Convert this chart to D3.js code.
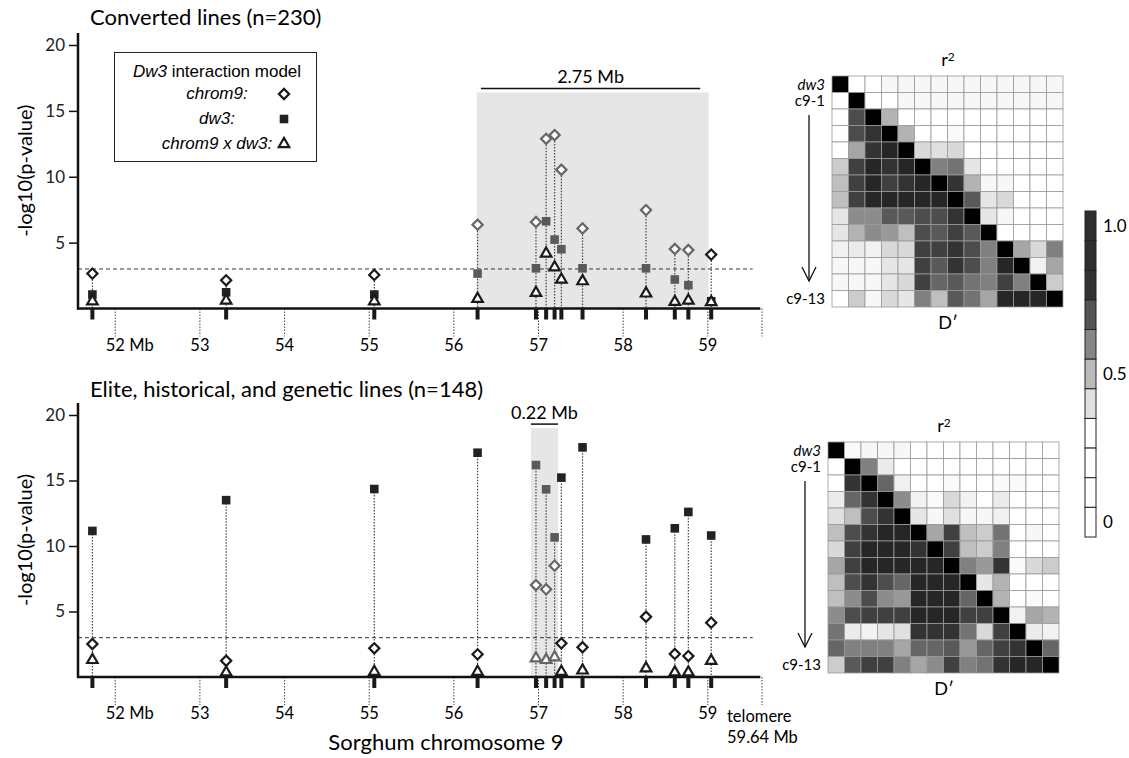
<!DOCTYPE html>
<html>
<head>
<meta charset="utf-8">
<script src="https://cdn.jsdelivr.net/npm/d3@7"></script>
<style>
  body { margin: 0; background: #fff; }
  svg { display: block; }
</style>
</head>
<body>
<div id="chart"></div>
<script>
// SNP positions on chromosome 9 (Mb)
const snpPos = [51.73, 53.31, 55.06, 56.28, 56.97, 57.09, 57.19, 57.27, 57.52, 58.27, 58.61, 58.77, 59.04];
const mbTicks = [52, 53, 54, 55, 56, 57, 58, 59];
const telomere = 59.64;
const yTicks = [5, 10, 15, 20];
const threshold = 3;

// converted lines (n=230): -log10(p)
const convChrom9 = [2.65, 2.14, 2.55, 6.36, 6.57, 12.88, 13.16, 10.53, 6.08, 7.47, 4.52, 4.44, 4.09];
const convDw3    = [1.06, 1.23, 1.06, 2.65, 3.05, 6.62, 5.23, 4.5, 3.05, 3.05, 2.2, 1.77, 0.55];
const convInter  = [0.55, 0.6, 0.55, 0.73, 1.19, 4.17, 3.13, 2.2, 2.07, 1.14, 0.5, 0.6, 0.48];
const convRegion = [56.27, 59.01];
const convBracket = "2.75 Mb";

// elite, historical and genetic lines (n=148)
const eliteChrom9 = [2.52, 1.24, 2.19, 1.73, 7.02, 6.69, 8.5, 2.57, 2.27, 4.6, 1.76, 1.6, 4.15];
const eliteDw3    = [11.15, 13.5, 14.35, 17.12, 16.18, 14.33, 10.66, 15.22, 17.53, 10.5, 11.35, 12.6, 10.8];
const eliteInter  = [1.3, 0.35, 0.4, 0.4, 1.43, 1.3, 1.5, 0.4, 0.5, 0.66, 0.35, 0.35, 1.24];
const eliteRegion = [56.91, 57.23];
const eliteBracket = "0.22 Mb";

// LD heatmaps: shade of each cell (upper = r2, lower = D')
const hmLabels = ["dw3", "c9-1", "", "", "", "", "", "", "", "", "", "", "", "c9-13"];
const convLD = [
  [1, 0, 0, .03, .03, .03, .03, .03, .03, .03, .03, .03, .03, .03],
  [0, 1, 0, 0, .03, .03, .03, .03, .03, .03, .03, .03, .03, .03],
  [0, .7, 1, .3, 0, 0, 0, 0, 0, 0, 0, 0, 0, 0],
  [0, .7, .8, 1, .3, 0, 0, .02, 0, 0, 0, 0, 0, 0],
  [0, .35, .8, .85, 1, .15, .12, .15, 0, 0, 0, 0, 0, 0],
  [.2, .75, .85, .8, .85, 1, .5, .55, .1, 0, 0, 0, 0, 0],
  [.25, .75, .85, .75, .8, .85, 1, .8, .3, .03, .03, 0, 0, 0],
  [.25, .75, .85, .85, .85, .85, .85, 1, .65, .1, .15, 0, 0, 0],
  [.1, .45, .45, .65, .65, .7, .7, .8, 1, .1, .03, 0, 0, 0],
  [.1, .3, .45, .4, .25, .7, .65, .75, .65, 1, 0, 0, 0, 0],
  [.05, .08, .05, .15, .15, .75, .75, .8, .7, .5, 1, .35, .15, .5],
  [.03, .03, .03, .1, .1, .75, .65, .8, .7, .5, .85, 1, .05, .35],
  [.03, .03, .03, .1, .15, .75, .6, .65, .55, .5, .75, .5, 1, .2],
  [0, .2, .03, .15, .1, .5, .25, .65, .55, .35, .85, .85, .85, 1]
];
const eliteLD = [
  [1, .02, .03, .03, .03, 0, 0, 0, 0, 0, 0, 0, 0, 0],
  [0, 1, .5, .08, 0, 0, 0, 0, 0, 0, 0, 0, 0, 0],
  [0, .8, 1, .6, .06, 0, 0, .02, 0, 0, .02, .02, 0, 0],
  [.08, .6, .8, 1, .45, .05, .02, .15, .05, 0, .08, 0, 0, 0],
  [.12, .25, .7, .8, 1, .1, .03, .12, .03, .03, .06, 0, 0, 0],
  [.25, .7, .8, .85, .85, 1, .35, .75, .25, .2, .55, 0, .03, 0],
  [.15, .75, .85, .85, .85, .8, 1, .75, .25, .2, .5, 0, 0, 0],
  [.35, .75, .85, .85, .85, .85, .85, 1, .5, .4, .8, .02, .15, .2],
  [.25, .7, .8, .7, .6, .85, .85, .85, 1, .1, .3, 0, 0, 0],
  [.25, .45, .7, .45, .4, .85, .85, .85, .6, 1, .3, 0, .02, 0],
  [.45, .7, .75, .75, .75, .85, .85, .85, .75, .75, 1, .05, .35, .3],
  [.55, .08, .05, .1, .12, .8, .8, .8, .55, .15, .75, 1, .08, .05],
  [.6, .5, .5, .5, .35, .6, .6, .65, .4, .6, .75, .8, 1, .6],
  [.2, .65, .75, .75, .5, .35, .45, .75, .5, .55, .8, .85, .85, 1]
];

// colour key
const legendValues = [1, 0.9, 0.8, 0.7, 0.6, 0.5, 0.4, 0.3, 0.2, 0.1, 0];
const legendShades = [.82, .82, .8, .67, .47, .27, .12, 0, 0, 0, 0];
const legendLabels = ["1.0", "0.5", "0"];

const FONT = "Lato, 'Open Sans', sans-serif";
const ARIAL = "'Liberation Sans', Arial, sans-serif";

const svg = d3.select("#chart").append("svg")
  .attr("width", 1129)
  .attr("height", 758);

const x = d3.scaleLinear().domain([51.56, 59.64]).range([78, 762]);
const gray = d3.scaleLinear().domain([0, 1]).range(["#ffffff", "#000000"]);

const panels = [
  { title: "Converted lines (n=230)", titleY: 25, axisTop: 33, y0: 308.5, y20: 45,
    chrom9: convChrom9, dw3: convDw3, inter: convInter, region: convRegion, regionTop: 16.4,
    bracket: convBracket, bracketInset: 0.05, triGray: false, legend: true, telo: false,
    ld: convLD, hmX: 832, hmY: 76 },
  { title: "Elite, historical, and genetic lines (n=148)", titleY: 397, axisTop: 403, y0: 677, y20: 415,
    chrom9: eliteChrom9, dw3: eliteDw3, inter: eliteInter, region: eliteRegion, regionTop: 19,
    bracket: eliteBracket, bracketInset: 0, triGray: true, legend: false, telo: true,
    ld: eliteLD, hmX: 828, hmY: 442 }
];

const diamond = d3.symbol().type(d3.symbolSquare).size(52);
const square = d3.symbol().type(d3.symbolSquare).size(74);
const triangle = d3.symbol().type(d3.symbolTriangle).size(48);

panels.forEach(p => {
  const g = svg.append("g");
  const y = d3.scaleLinear().domain([0, 20]).range([p.y0, p.y20]);
  const inRegion = v => v >= p.region[0] && v <= p.region[1];
  const pts = snpPos.map((pos, i) => ({ pos, c9: p.chrom9[i], dw: p.dw3[i], ix: p.inter[i], inR: inRegion(pos) }));

  // title
  g.append("text")
    .attr("x", 90).attr("y", p.titleY)
    .style("font-family", FONT).style("font-size", "22px")
    .text(p.title);

  // shaded region + bracket
  const rTop = y(p.regionTop);
  g.append("rect")
    .attr("x", x(p.region[0])).attr("y", rTop)
    .attr("width", x(p.region[1]) - x(p.region[0]))
    .attr("height", p.y0 - rTop)
    .attr("fill", "#e6e6e6");
  const bx0 = x(p.region[0] + p.bracketInset), bx1 = x(p.region[1] - p.bracketInset * 2);
  g.append("line")
    .attr("x1", bx0).attr("x2", bx1)
    .attr("y1", rTop - 4).attr("y2", rTop - 4)
    .attr("stroke", "#111").attr("stroke-width", 1.5);
  g.append("text")
    .attr("x", (bx0 + bx1) / 2).attr("y", rTop - 9)
    .attr("text-anchor", "middle")
    .style("font-family", FONT).style("font-size", "18px")
    .text(p.bracket);

  // significance threshold
  g.append("line")
    .attr("x1", x.range()[0]).attr("x2", x(59.53))
    .attr("y1", y(threshold)).attr("y2", y(threshold))
    .attr("stroke", "#333").attr("stroke-width", 1)
    .attr("stroke-dasharray", "4,3");

  // y axis ticks
  const yAxis = g.append("g")
    .attr("transform", `translate(${x.range()[0]},0)`)
    .call(d3.axisLeft(y).tickValues(yTicks).tickSize(9).tickPadding(4));
  yAxis.select(".domain").remove();
  yAxis.selectAll(".tick line").attr("stroke", "#111").attr("stroke-width", 1.5);
  yAxis.selectAll(".tick text")
    .style("font-family", FONT).style("font-size", "17px").attr("fill", "#222");

  g.append("text")
    .attr("transform", `translate(25,${(p.y0 + p.axisTop) / 2}) rotate(-90)`)
    .attr("text-anchor", "middle")
    .attr("dy", "0.35em")
    .style("font-family", FONT).style("font-size", "20px")
    .text("-log10(p-value)");

  // Mb ticks (dotted, below the axis)
  const mbAll = mbTicks.concat([telomere]);
  g.selectAll(".mb").data(mbAll).enter().append("line")
    .attr("x1", d => x(d)).attr("x2", d => x(d))
    .attr("y1", p.y0).attr("y2", p.y0 + 28)
    .attr("stroke", "#444").attr("stroke-width", 1)
    .attr("stroke-dasharray", "1.5,1.5");
  g.selectAll(".mbl").data(mbTicks).enter().append("text")
    .attr("x", d => x(d)).attr("y", p.y0 + 42)
    .attr("text-anchor", "middle")
    .style("font-family", FONT).style("font-size", "16.5px")
    .text(d => d);
  g.append("text")
    .attr("x", x(mbTicks[0]) + 14).attr("y", p.y0 + 42)
    .style("font-family", FONT).style("font-size", "16.5px")
    .text("Mb");
  if (p.telo) {
    g.append("text")
      .attr("x", x(telomere) - 35).attr("y", p.y0 + 45)
      .style("font-family", FONT).style("font-size", "16.5px")
      .text("telomere");
    g.append("text")
      .attr("x", x(telomere) - 35).attr("y", p.y0 + 66)
      .style("font-family", FONT).style("font-size", "16.5px")
      .text(telomere + " Mb");
    g.append("text")
      .attr("x", 446).attr("y", p.y0 + 73)
      .attr("text-anchor", "middle")
      .style("font-family", FONT).style("font-size", "22px")
      .text("Sorghum chromosome 9");
  }

  // stems
  g.selectAll(".stem").data(pts).enter().append("line")
    .attr("x1", d => x(d.pos)).attr("x2", d => x(d.pos))
    .attr("y1", d => y(Math.max(d.c9, d.dw, d.ix))).attr("y2", p.y0)
    .attr("stroke", "#444").attr("stroke-width", 1.2)
    .attr("stroke-dasharray", "1.5,1.5");

  // axes lines
  g.append("line")
    .attr("x1", x.range()[0]).attr("x2", x.range()[0])
    .attr("y1", p.axisTop).attr("y2", p.y0 + 1)
    .attr("stroke", "#111").attr("stroke-width", 2.5);
  g.append("line")
    .attr("x1", x.range()[0] - 1).attr("x2", x(59.62))
    .attr("y1", p.y0).attr("y2", p.y0)
    .attr("stroke", "#111").attr("stroke-width", 2.5);

  // SNP ticks
  g.selectAll(".snp").data(pts).enter().append("rect")
    .attr("x", d => x(d.pos) - 2).attr("y", p.y0)
    .attr("width", 4).attr("height", 11)
    .attr("fill", "#1a1a1a");

  // markers
  g.selectAll(".sq").data(pts).enter().append("path")
    .attr("d", square)
    .attr("transform", d => `translate(${x(d.pos)},${y(d.dw)})`)
    .attr("fill", d => d.inR ? "#5a5a5a" : "#222");
  g.selectAll(".dm").data(pts).enter().append("path")
    .attr("d", diamond)
    .attr("transform", d => `translate(${x(d.pos)},${y(d.c9)}) rotate(45)`)
    .attr("fill", "#fff")
    .attr("stroke", d => d.inR ? "#666" : "#1a1a1a")
    .attr("stroke-width", 2.2);
  g.selectAll(".tr").data(pts).enter().append("path")
    .attr("d", triangle)
    .attr("transform", d => `translate(${x(d.pos)},${y(d.ix)})`)
    .attr("fill", "#fff")
    .attr("stroke", d => (p.triGray && d.inR) ? "#666" : "#1a1a1a")
    .attr("stroke-width", 2.2);

  // model legend
  if (p.legend) {
    const lg = g.append("g");
    lg.append("rect")
      .attr("x", 114.5).attr("y", 52.5).attr("width", 202).attr("height", 109)
      .attr("fill", "#fff").attr("stroke", "#222").attr("stroke-width", 1);
    const t = lg.append("text")
      .attr("x", 217).attr("y", 77).attr("text-anchor", "middle")
      .style("font-family", ARIAL).style("font-size", "17px");
    t.append("tspan").style("font-style", "italic").text("Dw3");
    t.append("tspan").text(" interaction model");
    const items = [
      { label: "chrom9:", y: 99, sym: diamond, rot: 45, fill: "#fff", stroke: "#1a1a1a" },
      { label: "dw3:", y: 124, sym: square, rot: 0, fill: "#222", stroke: "none" },
      { label: "chrom9 x dw3:", y: 149, sym: triangle, rot: 0, fill: "#fff", stroke: "#1a1a1a" }
    ];
    items.forEach(it => {
      lg.append("text")
        .attr("x", 217).attr("y", it.y).attr("text-anchor", "middle")
        .style("font-family", ARIAL).style("font-size", "17px").style("font-style", "italic")
        .text(it.label);
      lg.append("path")
        .attr("d", it.sym)
        .attr("transform", `translate(284,${it.y - 5}) rotate(${it.rot})`)
        .attr("fill", it.fill).attr("stroke", it.stroke).attr("stroke-width", 2.2);
    });
  }

  // LD heatmap
  const n = p.ld.length;
  const band = d3.scaleBand().domain(d3.range(n)).range([0, 231]);
  const hm = g.append("g").attr("transform", `translate(${p.hmX},${p.hmY})`);
  p.ld.forEach((row, i) => {
    hm.selectAll(null).data(row).enter().append("rect")
      .attr("x", (d, j) => band(j)).attr("y", band(i))
      .attr("width", band.bandwidth()).attr("height", band.bandwidth())
      .attr("fill", d => gray(d))
      .attr("stroke", "#9a9a9a").attr("stroke-width", 0.8);
  });
  hm.selectAll(".rl").data(hmLabels).enter().append("text")
    .attr("x", -7).attr("y", (d, i) => band(i) + band.bandwidth() / 2)
    .attr("dy", "0.35em").attr("text-anchor", "end")
    .style("font-family", FONT).style("font-size", "15px")
    .style("font-style", (d, i) => i === 0 ? "italic" : "normal")
    .text(d => d);
  const ax = -23;
  hm.append("line")
    .attr("x1", ax).attr("x2", ax).attr("y1", band(2) + 6).attr("y2", band(12) + 7)
    .attr("stroke", "#111").attr("stroke-width", 1.3);
  hm.append("path")
    .attr("d", `M${ax - 7},${band(12) - 7} L${ax},${band(12) + 7} L${ax + 7},${band(12) - 7}`)
    .attr("fill", "none").attr("stroke", "#111").attr("stroke-width", 1.3);
  const r2 = hm.append("text")
    .attr("x", 116).attr("y", -10).attr("text-anchor", "middle")
    .style("font-family", FONT).style("font-size", "18px");
  r2.append("tspan").text("r");
  r2.append("tspan").attr("dy", "-0.45em").style("font-size", "12px").text("2");
  hm.append("text")
    .attr("x", 116).attr("y", 231 + 22).attr("text-anchor", "middle")
    .style("font-family", FONT).style("font-size", "18px")
    .text("D\u2032");
});

// colour key
const key = svg.append("g").attr("transform", "translate(1085,0)");
const ky = d3.scaleBand().domain(legendValues).range([211, 537]);
key.selectAll("rect").data(legendValues).enter().append("rect")
  .attr("x", 0).attr("y", d => ky(d))
  .attr("width", 11).attr("height", ky.bandwidth())
  .attr("fill", (d, i) => gray(legendShades[i]))
  .attr("stroke", "#222").attr("stroke-width", 1);
key.selectAll("text").data(legendLabels).enter().append("text")
  .attr("x", 18).attr("y", d => ky(+d) + ky.bandwidth() / 2)
  .attr("dy", "0.35em")
  .style("font-family", FONT).style("font-size", "17px")
  .text(d => d);
</script>
</body>
</html>
